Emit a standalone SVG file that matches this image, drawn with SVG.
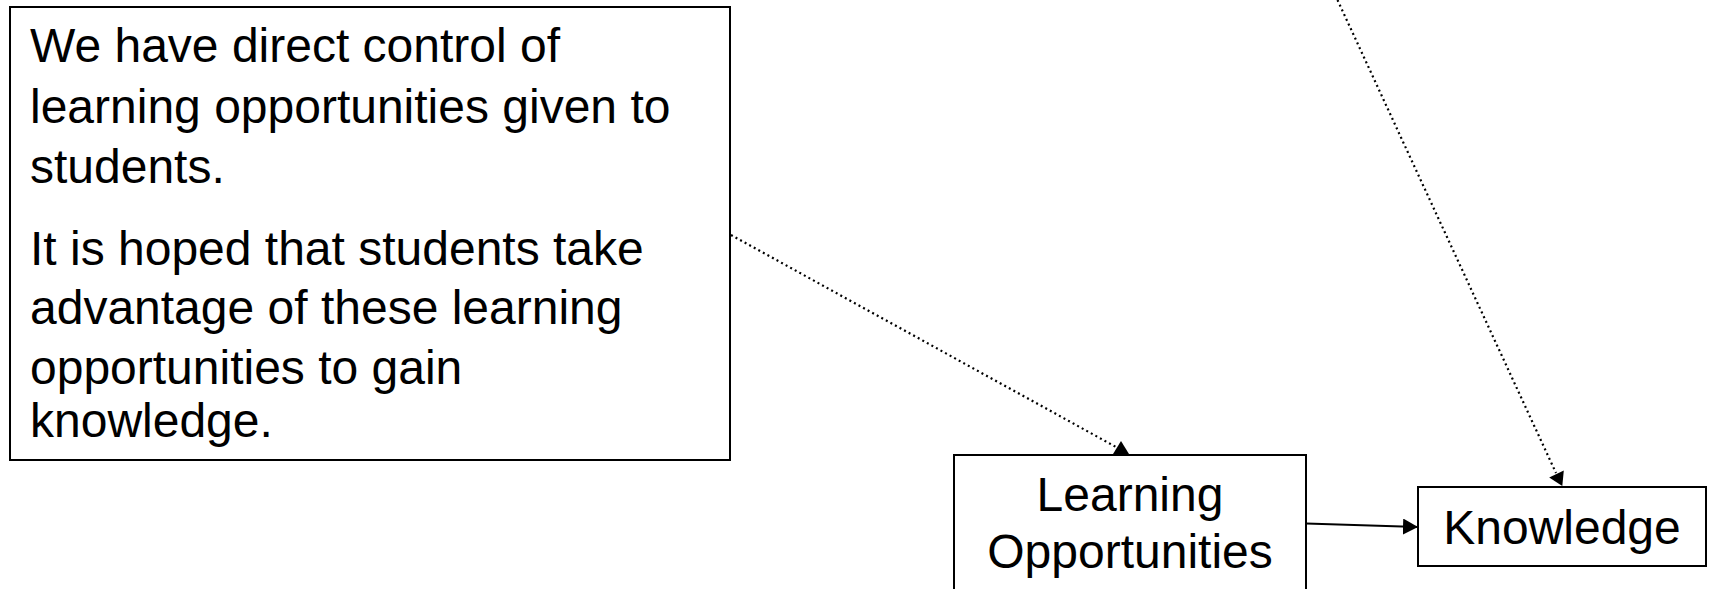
<svg xmlns="http://www.w3.org/2000/svg" width="1710" height="589" viewBox="0 0 1710 589">
<style>
.box{fill:#fff;stroke:#000;stroke-width:2}
.t{font-family:"Liberation Sans",Arial,sans-serif;font-size:48px;fill:#000}
.c{text-anchor:middle}
.dot{fill:none;stroke:#000;stroke-width:2.2;stroke-dasharray:2 3.2}
.solid{fill:none;stroke:#000;stroke-width:2}
</style>
<defs>
<marker id="ah" viewBox="0 0 15 16" refX="15" refY="8" markerWidth="15" markerHeight="16" markerUnits="userSpaceOnUse" orient="auto">
<path d="M0,0 L15,8 L0,16 Z" fill="#000"/>
</marker>
</defs>
<g id="node-control">
<rect class="box" x="10" y="7" width="720" height="453"/>
<text class="t" x="30" y="62">We have direct control of</text>
<text class="t" x="30" y="123">learning opportunities given to</text>
<text class="t" x="30" y="183">students.</text>
<text class="t" x="30" y="265">It is hoped that students take</text>
<text class="t" x="30" y="324">advantage of these learning</text>
<text class="t" x="30" y="384">opportunities to gain</text>
<text class="t" x="30" y="437">knowledge.</text>
</g>
<g id="node-learning">
<rect class="box" x="954" y="455" width="352" height="150"/>
<text class="t c" x="1130" y="511">Learning</text>
<text class="t c" x="1130" y="568">Opportunities</text>
</g>
<g id="node-knowledge">
<rect class="box" x="1418" y="487" width="288" height="79"/>
<text class="t c" x="1562" y="544">Knowledge</text>
</g>
<g id="connectors">
<line class="dot" x1="731" y1="235" x2="1116" y2="447"/>
<polygon points="1113,454 1129,454 1121,441" fill="#000"/>
<line class="dot" x1="1337.5" y1="0" x2="1556" y2="473"/>
<path d="M1556.5,474 L1563.8,470.6 L1562.3,486 L1549.2,477.4 Z" fill="#000"/>
<line class="solid" x1="1306" y1="523.5" x2="1418" y2="527" marker-end="url(#ah)"/>
</g>
</svg>
